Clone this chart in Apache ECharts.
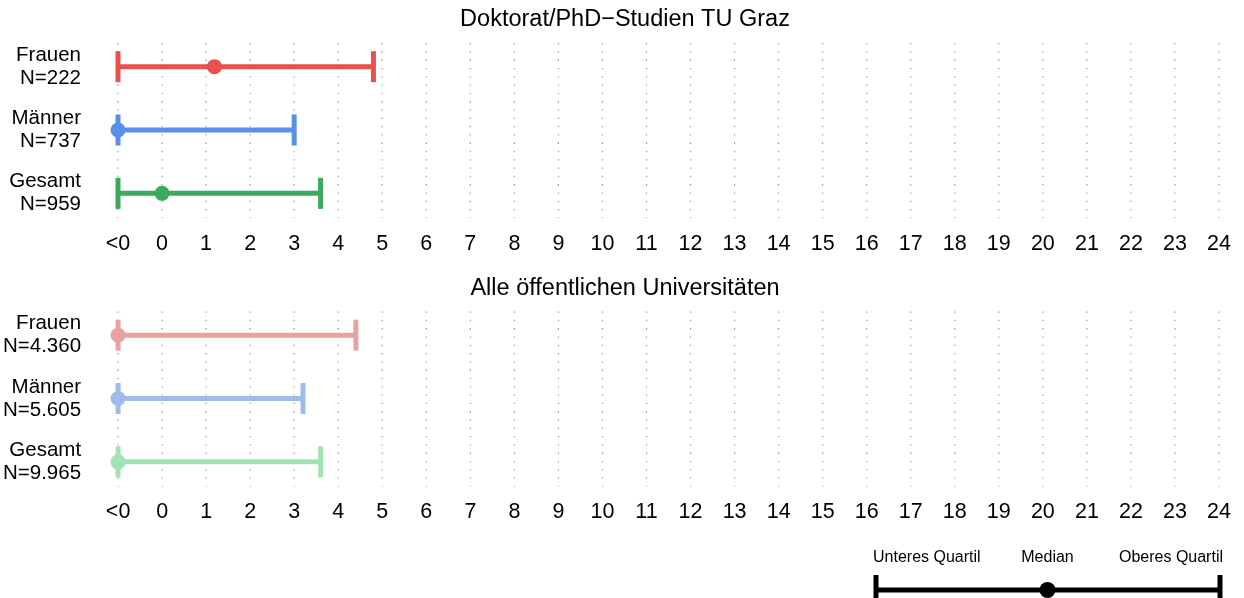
<!DOCTYPE html>
<html>
<head>
<meta charset="utf-8">
<script src="https://cdn.jsdelivr.net/npm/echarts@6/dist/echarts.min.js"></script>
<style>html,body{margin:0;padding:0;background:#fff;}#c{width:1244px;height:598px;}</style>
</head>
<body>
<div id="c"></div>
<script>
// ---- data ----
const categories = ['Frauen', 'Männer', 'Gesamt'];
const topTitle = 'Doktorat/PhD\u2212Studien TU Graz';
const bottomTitle = 'Alle öffentlichen Universitäten';
const topN = ['222', '737', '959'];
const bottomN = ['4.360', '5.605', '9.965'];
// value -1 stands for "<0"
const topLower = [-1, -1, -1];
const topMedian = [1.19, -1, 0];
const topUpper = [4.8, 3.0, 3.6];
const bottomLower = [-1, -1, -1];
const bottomMedian = [-1, -1, -1];
const bottomUpper = [4.4, 3.2, 3.6];
const tickValues = [-1, 0, 1, 2, 3, 4, 5, 6, 7, 8, 9, 10, 11, 12, 13, 14, 15, 16, 17, 18, 19, 20, 21, 22, 23, 24];
const tickLabels = ['<0', '0', '1', '2', '3', '4', '5', '6', '7', '8', '9', '10', '11', '12', '13', '14', '15', '16', '17', '18', '19', '20', '21', '22', '23', '24'];
const legendLabels = ['Unteres Quartil', 'Median', 'Oberes Quartil'];

// ---- styles ----
const topColors = ['#E8514F', '#5A8FE9', '#3BAA5C'];
const bottomColors = ['#E8A2A2', '#9DBCE6', '#A2E3B3'];
const FONT = '"Liberation Sans", Arial, Helvetica, sans-serif';

const chart = echarts.init(document.getElementById('c'), null, {renderer: 'canvas'});

function buildRows(lower, median, upper) {
  return categories.map((c, i) => [lower[i], median[i], upper[i], i]);
}

function errorBarRender(colors) {
  return function (params, api) {
    const idx = api.value(3);
    const lo = api.coord([api.value(0), idx]);
    const md = api.coord([api.value(1), idx]);
    const hi = api.coord([api.value(2), idx]);
    const band = api.size([0, 1])[1];
    const h = band * 0.245;
    const col = colors[idx];
    const st = {stroke: col, lineWidth: 5};
    return {
      type: 'group',
      children: [
        {type: 'line', shape: {x1: lo[0], y1: lo[1], x2: hi[0], y2: hi[1]}, style: st},
        {type: 'line', shape: {x1: lo[0], y1: lo[1] - h, x2: lo[0], y2: lo[1] + h}, style: st},
        {type: 'line', shape: {x1: hi[0], y1: hi[1] - h, x2: hi[0], y2: hi[1] + h}, style: st},
        {type: 'circle', shape: {cx: md[0], cy: md[1], r: 7.5}, style: {fill: col}}
      ]
    };
  };
}

function gridRender(params, api) {
  const v = api.value(0);
  const a = api.coord([v, 0]);
  const b = api.coord([v, categories.length - 1]);
  const band = api.size([0, 1])[1];
  return {
    type: 'line',
    shape: {x1: a[0], y1: a[1] - band * 0.374, x2: b[0], y2: b[1] + band * 0.39},
    style: {stroke: '#8c8c8c', lineWidth: 1.1, lineDash: [1.3, 7]}
  };
}

function xAxisFor(gi) {
  return {
    type: 'value', gridIndex: gi, min: -1, max: 24, interval: 1,
    axisLine: {show: false}, axisTick: {show: false}, splitLine: {show: false},
    axisLabel: {
      color: '#000', fontSize: 21.5, fontFamily: FONT, margin: 8,
      showMinLabel: true, showMaxLabel: true,
      formatter: function (v) { const i = tickValues.indexOf(v); return i >= 0 ? tickLabels[i] : ''; }
    }
  };
}
function yAxisFor(gi, ns) {
  return {
    type: 'category', gridIndex: gi, data: categories, inverse: true,
    axisLine: {show: false}, axisTick: {show: false}, splitLine: {show: false},
    axisLabel: {
      color: '#000', fontSize: 20.5, fontFamily: FONT, margin: 37, align: 'right', lineHeight: 23,
      formatter: function (v, i) { return v + '\nN=' + ns[i]; }
    }
  };
}

const option = {
  backgroundColor: '#fff',
  animation: false,
  grid: [
    {left: 118, right: 25, top: 35, height: 190},
    {left: 118, right: 25, top: 303.5, height: 190}
  ],
  xAxis: [xAxisFor(0), xAxisFor(1)],
  yAxis: [yAxisFor(0, topN), yAxisFor(1, bottomN)],
  series: [
    {type: 'custom', xAxisIndex: 0, yAxisIndex: 0, renderItem: gridRender, data: tickValues.map(v => [v]), encode: {x: 0}, silent: true, z: 1},
    {type: 'custom', xAxisIndex: 1, yAxisIndex: 1, renderItem: gridRender, data: tickValues.map(v => [v]), encode: {x: 0}, silent: true, z: 1},
    {type: 'custom', xAxisIndex: 0, yAxisIndex: 0, renderItem: errorBarRender(topColors), data: buildRows(topLower, topMedian, topUpper), encode: {x: [0, 1, 2], y: 3}, z: 2},
    {type: 'custom', xAxisIndex: 1, yAxisIndex: 1, renderItem: errorBarRender(bottomColors), data: buildRows(bottomLower, bottomMedian, bottomUpper), encode: {x: [0, 1, 2], y: 3}, z: 2}
  ],
  graphic: [
    {type: 'text', x: 625, y: 20, style: {text: topTitle, fill: '#000', font: '23.5px ' + FONT, textAlign: 'center', textVerticalAlign: 'middle'}},
    {type: 'text', x: 625, y: 289, style: {text: bottomTitle, fill: '#000', font: '23.5px ' + FONT, textAlign: 'center', textVerticalAlign: 'middle'}},
    // legend key
    {type: 'text', x: 873, y: 558, style: {text: legendLabels[0], fill: '#000', font: '16px ' + FONT, textAlign: 'left', textVerticalAlign: 'middle'}},
    {type: 'text', x: 1047.5, y: 558, style: {text: legendLabels[1], fill: '#000', font: '16px ' + FONT, textAlign: 'center', textVerticalAlign: 'middle'}},
    {type: 'text', x: 1223, y: 558, style: {text: legendLabels[2], fill: '#000', font: '16px ' + FONT, textAlign: 'right', textVerticalAlign: 'middle'}},
    {type: 'line', shape: {x1: 876, y1: 590, x2: 1220, y2: 590}, style: {stroke: '#000', lineWidth: 5}},
    {type: 'line', shape: {x1: 876, y1: 575, x2: 876, y2: 606}, style: {stroke: '#000', lineWidth: 5}},
    {type: 'line', shape: {x1: 1220, y1: 575, x2: 1220, y2: 606}, style: {stroke: '#000', lineWidth: 5}},
    {type: 'circle', shape: {cx: 1047.5, cy: 590, r: 8}, style: {fill: '#000'}}
  ]
};
chart.setOption(option);
</script>
</body>
</html>
